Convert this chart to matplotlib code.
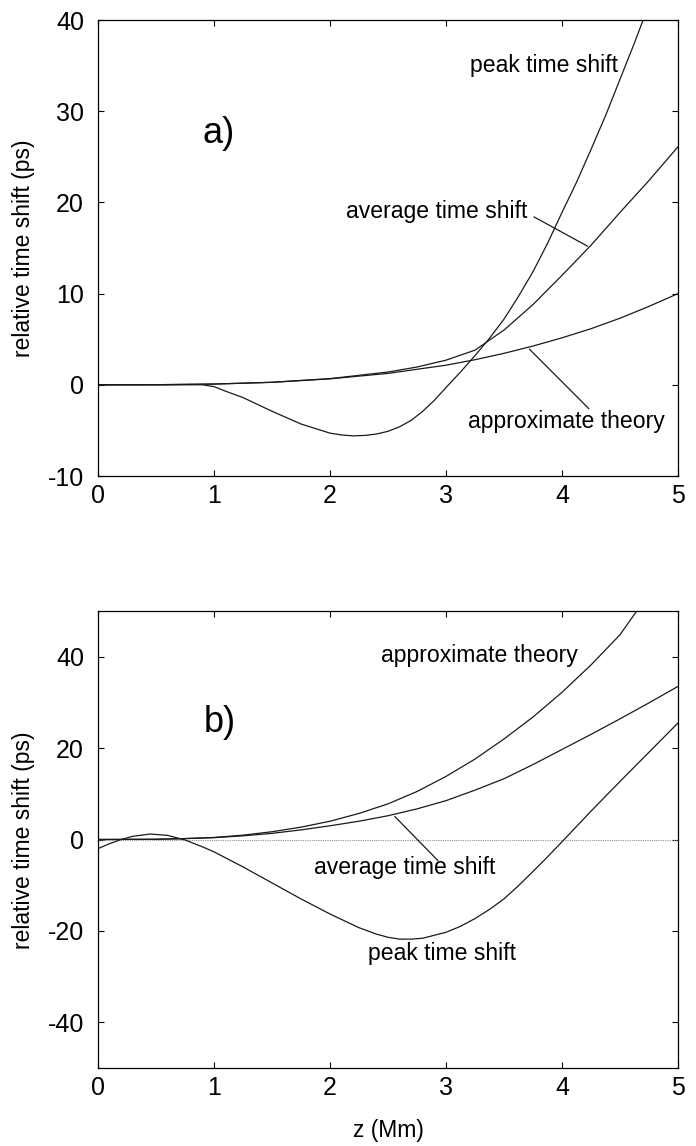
import matplotlib
matplotlib.use("Agg")
import matplotlib.pyplot as plt

plt.rcParams['font.family'] = ['Liberation Sans', 'DejaVu Sans']
plt.rcParams['axes.unicode_minus'] = False

# ---- panel a) data ----
z_approx_a = [0, 0.5, 1, 1.5, 2, 2.5, 3, 3.25, 3.5, 3.75, 4, 4.25, 4.5, 4.75, 5]
approx_a   = [0, 0.01, 0.08, 0.27, 0.65, 1.25, 2.15, 2.75, 3.45, 4.25, 5.15, 6.15, 7.3, 8.6, 10.0]

z_avg_a = [0, 0.5, 1, 1.5, 2, 2.5, 2.75, 3, 3.25, 3.5, 3.75, 4, 4.25, 4.5, 4.75, 5]
avg_a   = [0, 0.01, 0.08, 0.28, 0.68, 1.4, 1.95, 2.7, 3.8, 6.0, 8.8, 12.0, 15.3, 18.9, 22.4, 26.1]

z_peak_a = [0, 0.5, 0.9, 1.0, 1.1, 1.25, 1.4, 1.5, 1.75, 2.0, 2.1, 2.2, 2.3, 2.4, 2.5, 2.6, 2.7, 2.8,
            2.9, 3.0, 3.125, 3.25, 3.375, 3.5, 3.625, 3.75, 3.875, 4.0, 4.125, 4.25, 4.375, 4.5,
            4.625, 4.75]
peak_a   = [0, 0, 0, -0.2, -0.7, -1.4, -2.3, -2.9, -4.3, -5.3, -5.5, -5.6, -5.55, -5.4, -5.1, -4.6,
            -3.9, -2.9, -1.7, -0.3, 1.4, 3.2, 5.1, 7.2, 9.7, 12.4, 15.5, 18.9, 22.2, 25.8, 29.5, 33.5,
            37.5, 41.7]

# ---- panel b) data ----
z_approx_b = [0, 0.5, 0.75, 1, 1.25, 1.5, 1.75, 2, 2.25, 2.5, 2.75, 3, 3.25, 3.5, 3.75, 4, 4.25, 4.5, 4.65]
approx_b   = [0, 0.05, 0.2, 0.45, 0.95, 1.7, 2.7, 4.0, 5.7, 7.8, 10.5, 13.8, 17.6, 22.0, 26.8, 32.2, 38.2, 44.8, 50.2]

z_avg_b = [0, 0.5, 0.75, 1, 1.25, 1.5, 1.75, 2, 2.25, 2.5, 2.75, 3, 3.25, 3.5, 3.75, 4, 4.25, 4.5, 4.75, 5]
avg_b   = [0, 0.05, 0.2, 0.4, 0.8, 1.35, 2.1, 3.0, 4.0, 5.2, 6.7, 8.5, 10.8, 13.3, 16.4, 19.7, 23.0, 26.4, 29.9, 33.5]

z_peak_b = [0, 0.1, 0.2, 0.3, 0.45, 0.6, 0.75, 0.9, 1.0, 1.25, 1.5, 1.75, 2.0, 2.25, 2.4, 2.5, 2.6, 2.7,
            2.8, 3.0, 3.125, 3.25, 3.375, 3.5, 3.625, 3.75, 3.875, 4.0, 4.25, 4.5, 4.75, 5.0]
peak_b   = [-2.0, -0.9, 0.0, 0.7, 1.2, 0.9, -0.1, -1.6, -2.7, -6.0, -9.5, -13.0, -16.3, -19.3, -20.7, -21.4,
            -21.8, -21.8, -21.6, -20.3, -19.0, -17.3, -15.3, -13.0, -10.1, -7.0, -3.8, -0.5, 6.2, 12.7,
            19.1, 25.5]

xticks = [0, 1, 2, 3, 4, 5]
yticks_a = [-10, 0, 10, 20, 30, 40]
yticks_b = [-40, -20, 0, 20, 40]

LC = '#1a1a1a'
LW = 0.9
TXT = 16.6

fig = plt.figure(figsize=(6.96, 11.46), dpi=100)
L, W = 98 / 696, 580 / 696
ax1 = fig.add_axes([L, 1 - 476 / 1146, W, 456 / 1146])
ax2 = fig.add_axes([L, 1 - 1068 / 1146, W, 457 / 1146])

for ax in (ax1, ax2):
    ax.set_xlim(0, 5)
    ax.set_xticks(xticks)
    ax.tick_params(direction='in', length=4.5, width=0.8, top=True, right=True,
                   labelsize=18, colors='black')
    ax.tick_params(axis='y', pad=10)
    ax.tick_params(axis='x', pad=6)
    for s in ax.spines.values():
        s.set_linewidth(0.9)

# panel a
ax1.set_ylim(-10, 40)
ax1.set_yticks(yticks_a)
ax1.plot(z_approx_a, approx_a, color=LC, lw=LW)
ax1.plot(z_avg_a, avg_a, color=LC, lw=LW)
ax1.plot(z_peak_a, peak_a, color=LC, lw=LW)
ax1.text(1.04, 27.5, 'a)', fontsize=26, ha='center', va='center')
ax1.text(3.21, 35.0, 'peak time shift', fontsize=TXT, ha='left', va='center')
ax1.text(2.14, 19.0, 'average time shift', fontsize=TXT, ha='left', va='center')
ax1.plot([3.76, 4.22], [18.4, 15.2], color=LC, lw=LW)
ax1.text(3.19, -4.0, 'approximate theory', fontsize=TXT, ha='left', va='center')
ax1.plot([3.72, 4.23], [3.9, -2.6], color=LC, lw=LW)

# panel b
ax2.set_ylim(-50, 50)
ax2.set_yticks(yticks_b)
ax2.plot([0, 5], [0, 0], color='#909090', lw=0.8, ls=(0, (1, 1)))
ax2.plot(z_approx_b, approx_b, color=LC, lw=LW)
ax2.plot(z_avg_b, avg_b, color=LC, lw=LW)
ax2.plot(z_peak_b, peak_b, color=LC, lw=LW)
ax2.text(1.05, 25.5, 'b)', fontsize=26, ha='center', va='center')
ax2.text(2.44, 40.2, 'approximate theory', fontsize=TXT, ha='left', va='center')
ax2.text(1.86, -6.2, 'average time shift', fontsize=TXT, ha='left', va='center')
ax2.plot([2.56, 2.93], [5.0, -4.6], color=LC, lw=LW)
ax2.text(2.33, -24.9, 'peak time shift', fontsize=TXT, ha='left', va='center')

fig.text(24 / 696, 1 - 248 / 1146, 'relative time shift (ps)', rotation=90,
         ha='center', va='center', fontsize=16.5)
fig.text(24 / 696, 1 - 840 / 1146, 'relative time shift (ps)', rotation=90,
         ha='center', va='center', fontsize=16.5)
fig.text(388 / 696, 1 - 1131 / 1146, 'z (Mm)', ha='center', va='center', fontsize=16.5)

fig.savefig('out.png', dpi=100)
